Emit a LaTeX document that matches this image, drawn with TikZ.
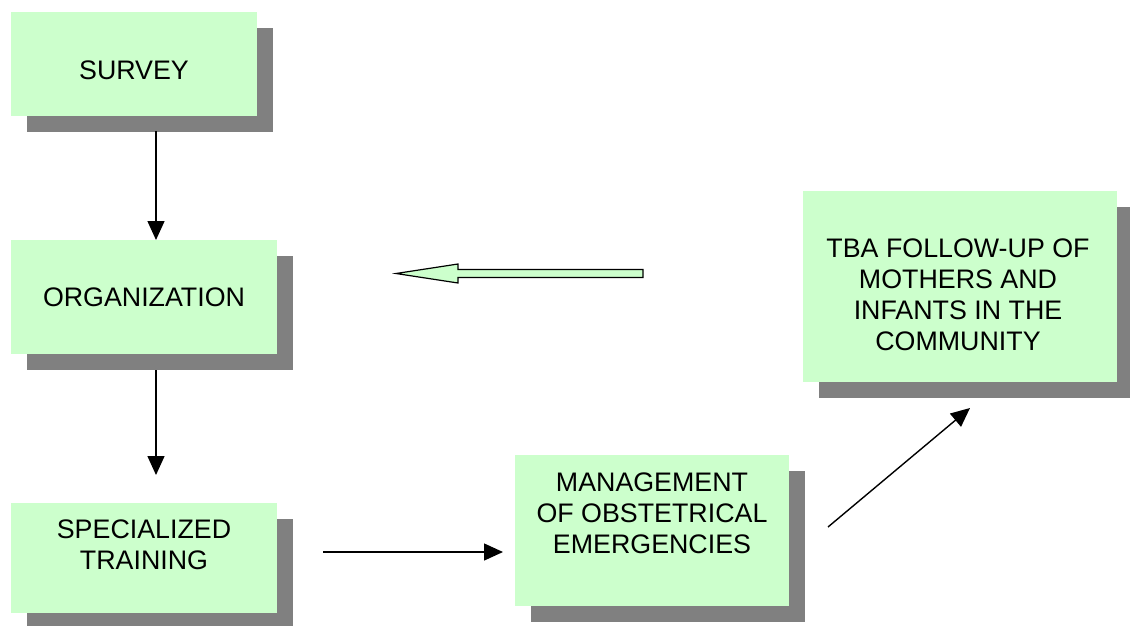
\documentclass[tikz,border=0pt]{standalone}
\usepackage{fontspec}
\setmainfont{Liberation Sans}
\usetikzlibrary{arrows.meta,calc,shadows}
\definecolor{boxgreen}{HTML}{CCFFCC}
\definecolor{shadowgray}{HTML}{808080}

\begin{document}
\begin{tikzpicture}[x=1pt,y=-1pt,
  box/.style={draw=none, fill=boxgreen, anchor=north west, inner sep=0pt, outer sep=0pt,
    drop shadow={shadow xshift=16pt, shadow yshift=-16pt, fill=shadowgray, opacity=1}},
  lbl/.style={font=\fontsize{26.8}{31}\selectfont, align=center, inner sep=0pt},
  arr/.style={line width=1.4pt, -{Triangle[length=19pt,width=17pt]}},
  bigarrow/.style={draw=black, line width=1.2pt, fill=boxgreen, line join=miter}]

% page
\fill[white] (0,0) rectangle (1130,625);
\path[use as bounding box] (0,0) rectangle (1130,625);

% boxes with drop shadows
\node[box, minimum width=246pt, minimum height=104pt] (survey) at (11,12) {};
\node[box, minimum width=266pt, minimum height=114pt] (org) at (11,240) {};
\node[box, minimum width=266pt, minimum height=110pt] (spec) at (11,503) {};
\node[box, minimum width=274pt, minimum height=151pt] (mgmt) at (515,455) {};
\node[box, minimum width=314pt, minimum height=191pt] (tba) at (803,191) {};

% box texts
\node[lbl] (survey-t) at (134,70) {SURVEY};
\node[lbl] (org-t) at (144,297) {ORGANIZATION};
\node[lbl] (spec-t) at (144,544.5) {SPECIALIZED\\TRAINING};
\node[lbl] (mgmt-t) at (652,513) {MANAGEMENT\\OF OBSTETRICAL\\EMERGENCIES};
\node[lbl] (tba-t) at (958,295) {TBA FOLLOW-UP OF\\MOTHERS AND\\INFANTS IN THE\\COMMUNITY};

% connectors
\coordinate (a1) at ([xshift=22pt,yshift=-15pt]survey.south);
\draw[arr] (a1) -- (a1 |- org.north);

\coordinate (a2) at ([xshift=12pt,yshift=-16pt]org.south);
\coordinate (b2) at ([xshift=12pt,yshift=28pt]spec.north);
\draw[arr] (a2) -- (b2);

\coordinate (a3) at ([xshift=46pt,yshift=6pt]spec.east);
\coordinate (b3) at ($(a3 -| mgmt.west)+(-12,0)$);
\draw[arr] (a3) -- (b3);

\coordinate (a4) at ([xshift=39pt,yshift=3.5pt]mgmt.east);
\coordinate (b4) at ([xshift=10pt,yshift=-26pt]tba.south);
\draw[arr] (a4) -- (b4);

% hollow block arrow pointing back to the left
\draw[bigarrow] (643,269.5) -- (458,269.5) -- (458,264) -- (396,273.5)
  -- (458,283) -- (458,277.5) -- (643,277.5) -- cycle;

\end{tikzpicture}
\end{document}
